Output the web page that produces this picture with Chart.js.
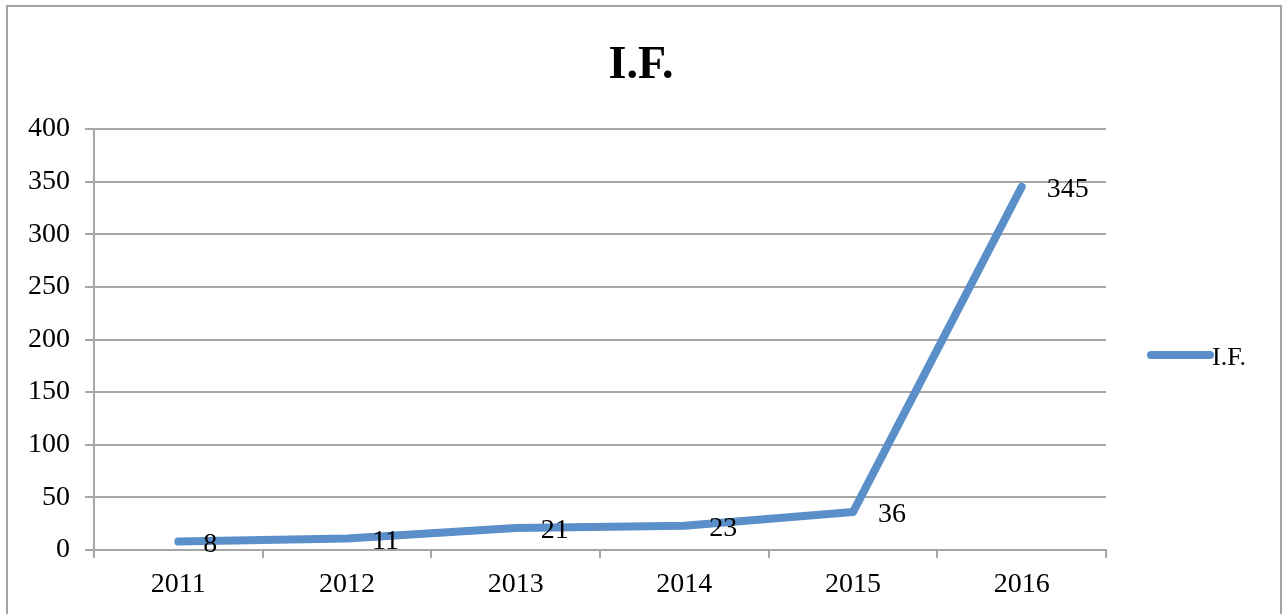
<!DOCTYPE html>
<html>
<head>
<meta charset="utf-8">
<script src="https://cdn.jsdelivr.net/npm/chart.js@4"></script>
<style>
  html, body { margin: 0; padding: 0; width: 1282px; height: 614px; overflow: hidden; background: #fff; }
  #frame { position: absolute; left: 6px; top: 5px; width: 1276px; height: 700px; box-sizing: border-box; border: 2px solid #a3a3a3; }
  #wrap { position: absolute; left: 0; top: 0; width: 1282px; height: 614px; }
</style>
</head>
<body>
<div id="frame"></div>
<div id="wrap"><canvas id="c"></canvas></div>
<script>
// ── 데이터 ──
const years = ['2011', '2012', '2013', '2014', '2015', '2016'];
const ifValues = [8, 11, 21, 23, 36, 345];
const seriesName = 'I.F.';

const LINE_COLOR = '#5b8fc9';
const GRID_COLOR = '#a6a6a6';
const SERIF = '"Liberation Serif", "DejaVu Serif", serif';

// 값 라벨 + 오른쪽 범례
const labelPlugin = {
  id: 'valueLabels',
  afterDatasetsDraw(chart) {
    const ctx = chart.ctx;
    const meta = chart.getDatasetMeta(0);
    ctx.save();
    ctx.font = '28px ' + SERIF;
    ctx.fillStyle = '#000';
    ctx.textAlign = 'left';
    ctx.textBaseline = 'middle';
    meta.data.forEach((pt, i) => {
      ctx.fillText(String(ifValues[i]), pt.x + 25, pt.y + 3);
    });

    // legend
    const lx = chart.chartArea.right + 45, ly = 355;
    ctx.strokeStyle = LINE_COLOR;
    ctx.lineWidth = 8;
    ctx.lineCap = 'round';
    ctx.beginPath();
    ctx.moveTo(lx, ly);
    ctx.lineTo(lx + 59, ly);
    ctx.stroke();
    ctx.font = '26px ' + SERIF;
    ctx.fillText(seriesName, lx + 61, ly + 3);
    ctx.restore();
  }
};

new Chart(document.getElementById('c'), {
  type: 'line',
  data: {
    labels: years,
    datasets: [{
      label: seriesName,
      data: ifValues,
      borderColor: LINE_COLOR,
      backgroundColor: LINE_COLOR,
      borderWidth: 8,
      borderCapStyle: 'round',
      borderJoinStyle: 'round',
      pointRadius: 0,
      tension: 0,
      fill: false
    }]
  },
  options: {
    responsive: true,
    maintainAspectRatio: false,
    animation: false,
    layout: { padding: 0 },
    plugins: {
      legend: { display: false },
      tooltip: { enabled: false },
      title: {
        display: true,
        text: 'I.F.',
        color: '#000',
        font: { family: SERIF, size: 46, weight: 'bold', lineHeight: 1.2 },
        padding: { top: 38.4, bottom: 35.4 }
      }
    },
    scales: {
      x: {
        offset: true,
        grid: { offset: true, drawOnChartArea: false, drawTicks: true, tickLength: 8, color: GRID_COLOR, lineWidth: 2 },
        border: { display: true, color: GRID_COLOR, width: 2 },
        ticks: { color: '#000', font: { family: SERIF, size: 28 }, padding: 10, maxRotation: 0 },
        afterFit: s => { s.height = 64; }
      },
      y: {
        min: 0, max: 400,
        ticks: { stepSize: 50, color: '#000', font: { family: SERIF, size: 28 }, padding: 15 },
        grid: { color: GRID_COLOR, lineWidth: 2, drawTicks: true, tickLength: 9 },
        border: { display: true, color: GRID_COLOR, width: 2 },
        afterFit: s => { s.width = 94; }
      },
      right: {
        position: 'right',
        display: true,
        grid: { display: false, drawTicks: false },
        border: { display: false },
        ticks: { display: false },
        afterFit: s => { s.width = 176; }
      }
    }
  },
  plugins: [labelPlugin]
});
</script>
</body>
</html>
